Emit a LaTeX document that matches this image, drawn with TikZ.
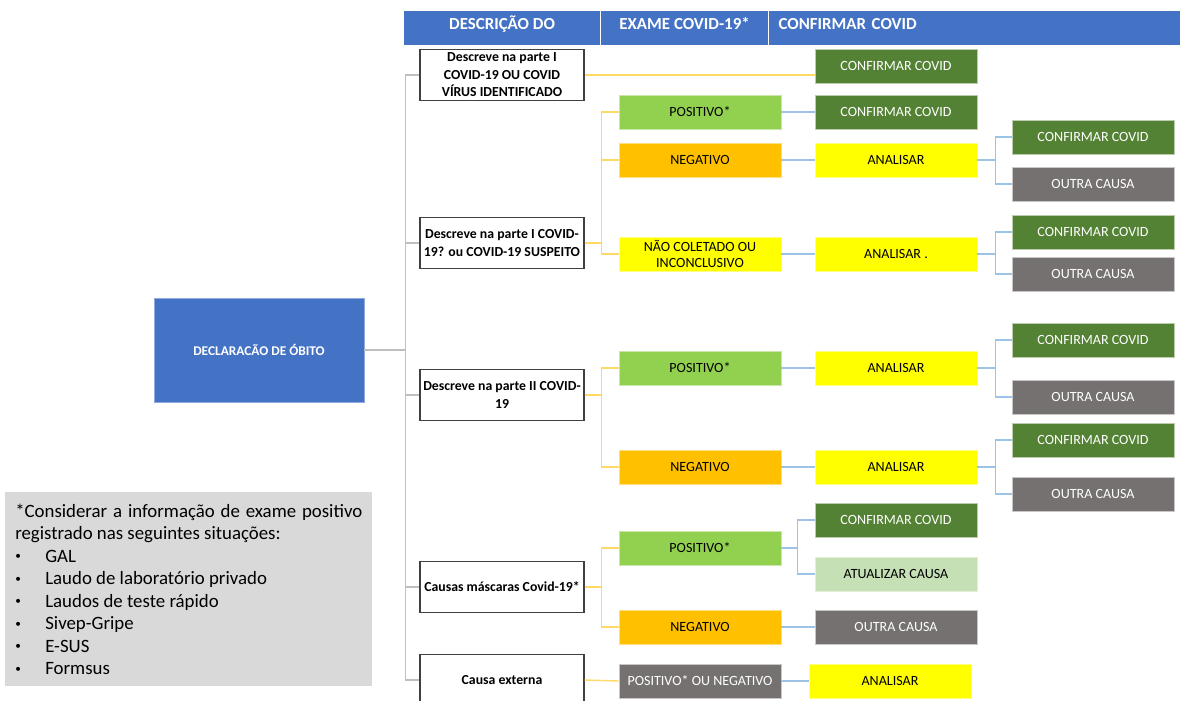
\documentclass[tikz,border=0pt]{standalone}
\usepackage{fontspec}
\setmainfont{Carlito}
\usetikzlibrary{positioning}
\definecolor{azul}{HTML}{4472C4}
\definecolor{verdeesc}{HTML}{548235}
\definecolor{verdecl}{HTML}{92D050}
\definecolor{verdepal}{HTML}{C5E0B4}
\definecolor{laranja}{HTML}{FFC000}
\definecolor{amarelo}{HTML}{FFFF00}
\definecolor{cinza}{HTML}{767171}
\definecolor{cinzanota}{HTML}{D9D9D9}
\definecolor{linhacinza}{HTML}{BFBFBF}
\definecolor{linhalaranja}{HTML}{FFD966}
\definecolor{linhaazul}{HTML}{9DC3E6}
\newcommand{\marca}{\makebox[0.75cm][l]{\raisebox{0.25ex}{\footnotesize\textbullet}}}

\begin{document}
\begin{tikzpicture}[x=0.025cm,y=-0.025cm,
  caixa/.style={minimum width=4.05cm,minimum height=0.85cm,inner sep=1pt,
    align=center,font=\fontsize{10}{12}\selectfont},
  desc/.style={draw=black!75,line width=0.9pt,fill=white,minimum width=4.1cm,
    minimum height=1.27cm,inner sep=2pt,align=center,
    font=\bfseries\fontsize{9.8}{12.5}\selectfont},
  positivo/.style={caixa,fill=verdecl,draw=verdecl!50!white},
  negativo/.style={caixa,fill=laranja,draw=laranja!50!white},
  analisar/.style={caixa,fill=amarelo,draw=amarelo!50!white},
  confirmar/.style={caixa,fill=verdeesc,draw=verdeesc!40!white,text=white},
  outra/.style={caixa,fill=cinza,draw=cinza!40!white,text=white},
  atual/.style={caixa,fill=verdepal,draw=verdepal!50!white},
  cab/.style={fill=azul,draw=white,line width=0.8pt,minimum height=0.875cm,
    inner sep=0pt,anchor=north west,text=white,text height=0.35cm,text depth=0.28cm,
    font=\bfseries\fontsize{12}{14}\selectfont},
  tronco/.style={draw=linhacinza,line width=1pt},
  ramo/.style={draw=linhalaranja,line width=1pt},
  liga/.style={draw=linhaazul,line width=1pt}]
\useasboundingbox (0,0) rectangle (1185,701);

% cabecalho
\node[cab,minimum width=4.925cm] (cab1) at (403,10) {DESCRIÇÃO DO};
\node[cab,minimum width=4.2cm] (cab2) at (600,10) {EXAME COVID-19*};
\node[cab,text width=9.8cm,inner xsep=0.25cm,align=left] (cab3) at (768,10) {CONFIRMAR COVID};

\node[fill=azul,draw=azul!60!white,minimum width=5.25cm,minimum height=2.6cm,
  text=white,font=\bfseries\fontsize{9.5}{12}\selectfont] (raiz) at (259,350)
  {DECLARACÃO DE ÓBITO};

% descricao
\node[desc] (d1) at (502,75) {Descreve na parte I\\COVID-19 OU COVID\\VÍRUS IDENTIFICADO};
\node[desc] (d2) at (502,243) {Descreve na parte I COVID-\\19? ou COVID-19 SUSPEITO};
\node[desc] (d3) at (502,395) {Descreve na parte II COVID-\\19};
\node[desc] (d4) at (502,587) {Causas máscaras Covid-19*};
\node[desc] (d5) at (502,680) {Causa externa};

% exame
\node[positivo] (pos2) at (700,112) {POSITIVO*};
\node[negativo] (neg2) at (700,160) {NEGATIVO};
\node[analisar] (nc2) at (700,254) {NÃO COLETADO OU\\INCONCLUSIVO};
\node[positivo] (pos3) at (700,368) {POSITIVO*};
\node[negativo] (neg3) at (700,467) {NEGATIVO};
\node[positivo] (pos4) at (700,548) {POSITIVO*};
\node[negativo] (neg4) at (700,627) {NEGATIVO};
\node[outra] (ext5) at (700,681) {POSITIVO* OU NEGATIVO};

% conduta
\node[confirmar] (conf1) at (896,66) {CONFIRMAR COVID};
\node[confirmar] (conf2) at (896,112) {CONFIRMAR COVID};
\node[analisar] (anl2) at (896,160) {ANALISAR};
\node[analisar] (anl2b) at (896,254) {ANALISAR .};
\node[analisar] (anl3) at (896,368) {ANALISAR};
\node[analisar] (anl4) at (896,467) {ANALISAR};
\node[confirmar] (conf4) at (896,520) {CONFIRMAR COVID};
\node[atual] (atu4) at (896,574) {ATUALIZAR CAUSA};
\node[outra] (out4) at (896,627) {OUTRA CAUSA};
\node[analisar] (anl5) at (890,681) {ANALISAR};

% resultado da analise
\node[confirmar] (k1) at (1093,137) {CONFIRMAR COVID};
\node[outra] (k2) at (1093,184) {OUTRA CAUSA};
\node[confirmar] (k3) at (1093,232) {CONFIRMAR COVID};
\node[outra] (k4) at (1093,274) {OUTRA CAUSA};
\node[confirmar] (k5) at (1093,340) {CONFIRMAR COVID};
\node[outra] (k6) at (1093,397) {OUTRA CAUSA};
\node[confirmar] (k7) at (1093,440) {CONFIRMAR COVID};
\node[outra] (k8) at (1093,494) {OUTRA CAUSA};

% ligacoes
\draw[tronco] (raiz.east) -- ++(41,0) coordinate (tr);
\foreach \n in {d1,d2,d3,d4,d5}
  \draw[tronco] (tr) |- (\n.west);
\draw[ramo] (d1.east) -- (d1.east -| conf1.west);
\foreach \n in {pos2,neg2,nc2}
  \draw[ramo] (d2.east) -- ++(17,0) |- (\n.west);
\foreach \n in {pos3,neg3}
  \draw[ramo] (d3.east) -- ++(17,0) |- (\n.west);
\foreach \n in {pos4,neg4}
  \draw[ramo] (d4.east) -- ++(17,0) |- (\n.west);
\draw[ramo] (d5.east) -- (ext5.west);
\path[liga]
  (pos2.east) edge (conf2.west)
  (neg2.east) edge (anl2.west)
  (nc2.east) edge (anl2b.west)
  (pos3.east) edge (anl3.west)
  (neg3.east) edge (anl4.west)
  (neg4.east) edge (out4.west)
  (ext5.east) edge (anl5.west);
\foreach \a/\b/\c in {anl2/k1/k2,anl2b/k3/k4,anl3/k5/k6,anl4/k7/k8}{
  \draw[liga] (\a.east) -- ++(18,0) |- (\b.west);
  \draw[liga] (\a.east) -- ++(18,0) |- (\c.west);}
\foreach \n in {conf4,atu4}
  \draw[liga] (pos4.east) -- ++(16,0) |- (\n.west);

% nota
\node[fill=cinzanota,anchor=north west,minimum width=9.175cm,minimum height=4.85cm,
  text width=8.675cm,inner xsep=0.25cm,inner ysep=0.2cm,align=justify,
  font=\fontsize{13.4}{16}\selectfont] (nota) at (5,492)
  {\hyphenpenalty=10000\exhyphenpenalty=10000
   *Considerar a informação de exame positivo registrado nas seguintes situações:\par
   \marca GAL\par
   \marca Laudo de laboratório privado\par
   \marca Laudos de teste rápido\par
   \marca Sivep-Gripe\par
   \marca E-SUS\par
   \marca Formsus};
\end{tikzpicture}
\end{document}
